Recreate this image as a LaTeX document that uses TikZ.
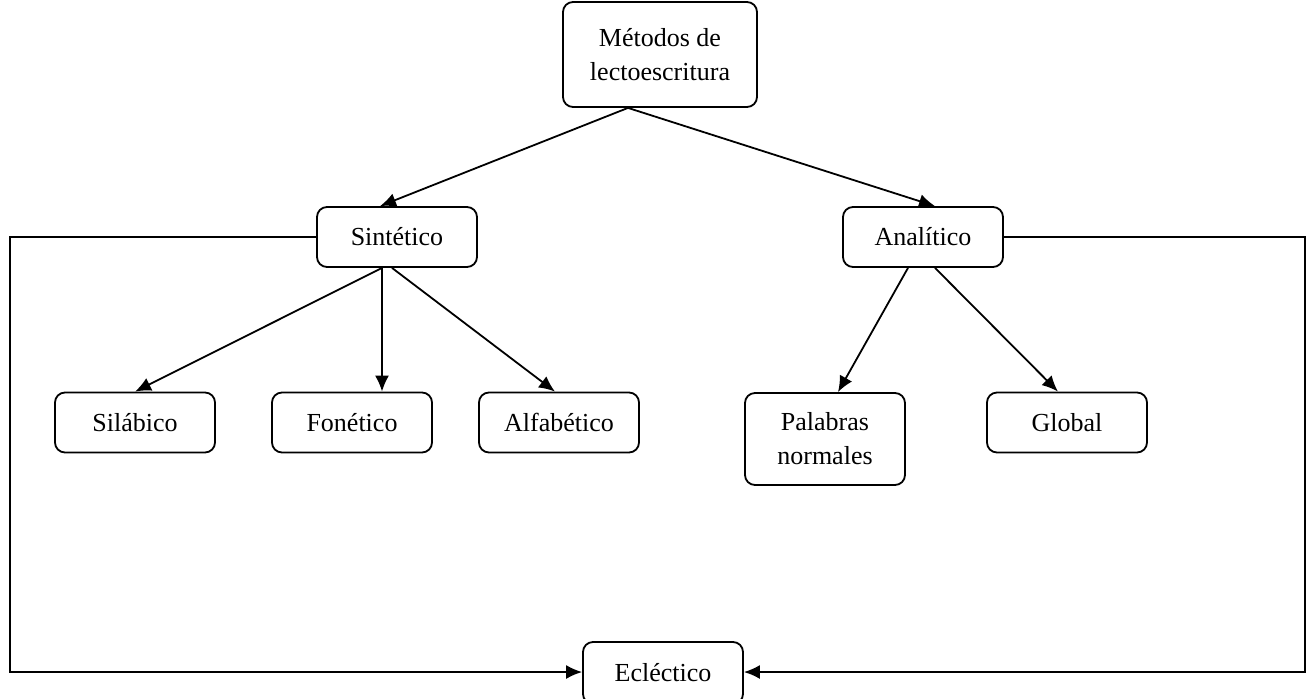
\documentclass[tikz,border=0pt]{standalone}
\usepackage{fontspec}
\setmainfont{Liberation Serif}
\usetikzlibrary{arrows.meta}
\begin{document}
\begin{tikzpicture}[x=0.5pt,y=-0.5pt,
  box/.style={draw,line width=0.9pt,rounded corners=5pt,minimum width=80pt,minimum height=30pt,align=center,font=\fontsize{13}{17}\selectfont,inner sep=2pt},
  conn/.style={line width=0.9pt},
  arr/.style={conn,-{Latex[length=8pt,width=7pt]}}]
\useasboundingbox (0,0) rectangle (1308,698);
\node[box,minimum width=97pt,minimum height=52.5pt] (m) at (660,54.5) {Métodos de\\lectoescritura};
\node[box] (s) at (397,237) {Sintético};
\node[box] (a) at (923,237) {Analítico};
\node[box] (sil) at (135,422.5) {Silábico};
\node[box] (fon) at (352,422.5) {Fonético};
\node[box] (alf) at (559,422.5) {Alfabético};
\node[box,minimum height=46pt] (pal) at (825,439) {Palabras\\normales};
\node[box] (glo) at (1067,422.5) {Global};
\node[box,minimum height=31pt] (ecl) at (663,673) {Ecléctico};
\coordinate (l1) at (10,237);
\coordinate (l2) at (10,672);
\coordinate (r1) at (1305,237);
\coordinate (r2) at (1305,672);
\draw[arr] ([xshift=-16pt]m.south) -- ([xshift=-8.5pt]s.north);
\draw[arr] ([xshift=-16pt]m.south) -- ([xshift=6pt]a.north);
\draw[arr] ([xshift=-7.5pt]s.south) -- (sil.north);
\draw[arr] ([xshift=-7.5pt]s.south) -- ([xshift=15pt]fon.north);
\draw[arr] ([xshift=-2.5pt]s.south) -- ([xshift=-2pt]alf.north);
\draw[arr] ([xshift=-7.5pt]a.south) -- ([xshift=6.5pt]pal.north);
\draw[arr] ([xshift=6pt]a.south) -- ([xshift=-4.5pt]glo.north);
\draw[arr] (s.west) -- (l1) -- (l2) -- (ecl.west |- l2);
\draw[arr] (a.east) -- (r1) -- (r2) -- (ecl.east |- r2);
\end{tikzpicture}
\end{document}
